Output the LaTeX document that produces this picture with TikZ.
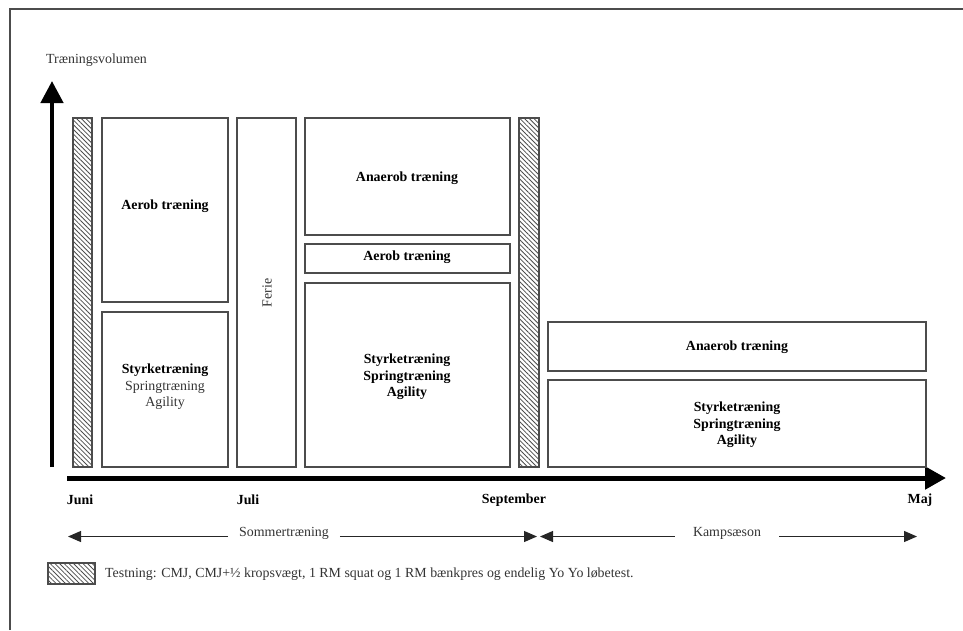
\documentclass[tikz,border=0pt]{standalone}
\usepackage{fontspec}
\setmainfont{Liberation Serif}
\usepackage{tikz}
\usetikzlibrary{arrows.meta,patterns.meta}

\tikzset{
	rammelinje/.style={line width=1.4pt, color=black!70},
	blok/.style={line width=1.4pt, draw=black!70},
	testblok/.style={blok, pattern={Lines[angle=-45,distance=3.3pt,line width=0.8pt]}, pattern color=black!70},
	felt/.style={font=\fontsize{13.9}{16.6}\selectfont\bfseries, align=center, inner sep=0pt},
	tekst/.style={font=\fontsize{13.9}{16.6}\selectfont, text=black!80, inner sep=0pt},
	periode/.style={line width=1.2pt, color=black!85, -{Triangle[length=13pt,width=11pt]}},
}

\begin{document}
\begin{tikzpicture}[x=1pt, y=-1pt]
		%%%%% START %%%%%
		\useasboundingbox (0, 0) rectangle (963, 630);
		
		\draw[rammelinje] (10, 630) -- (10, 9) -- (963, 9);
		
		\node[tekst, anchor=west] (volumen) at (46, 60) {Træningsvolumen};
		
		\draw[line width=4.5pt, -{Triangle[length=22pt,width=22pt]}] (52, 467) -- (52, 81);
		\draw[line width=5pt, -{Triangle[length=21pt,width=22pt]}] (67, 478) -- (946, 478);
		
		\draw[testblok] (73, 118) rectangle (92, 467);
		\draw[testblok] (519, 118) rectangle (539, 467);
		
		\draw[blok] (102, 118) rectangle (228, 302);
		\node[felt] (aerob1) at (165, 206) {Aerob træning};
		\draw[blok] (102, 312) rectangle (228, 467);
		\node[felt] (styrke1) at (165, 387) {Styrketræning\\\mdseries\color{black!80}Springtræning\\\mdseries\color{black!80}Agility};
		
		\draw[blok] (237, 118) rectangle (296, 467);
		\node[tekst, rotate=90] (ferie) at (267, 293) {Ferie};
		
		\draw[blok] (305, 118) rectangle (510, 235);
		\node[felt] (anaerob2) at (407, 178) {Anaerob træning};
		\draw[blok] (305, 244) rectangle (510, 273);
		\node[felt] (aerob2) at (407, 257) {Aerob træning};
		\draw[blok] (305, 283) rectangle (510, 467);
		\node[felt] (styrke2) at (407, 377) {Styrketræning\\Springtræning\\Agility};
		
		\draw[blok] (548, 322) rectangle (926, 371);
		\node[felt] (anaerob3) at (737, 347) {Anaerob træning};
		\draw[blok] (548, 380) rectangle (926, 467);
		\node[felt] (styrke3) at (737, 425) {Styrketræning\\Springtræning\\Agility};
		
		\node[felt] (juni) at (80, 500) {Juni};
		\node[felt] (juli) at (248, 500) {Juli};
		\node[felt] (september) at (514, 500) {September};
		\node[felt] (maj) at (920, 500) {Maj};
		
		\coordinate (somstart) at (68, 536.5);
		\coordinate (somslut) at (537, 536.5);
		\node[tekst, anchor=base, inner xsep=11pt] (sommer) at (284, 536.5) {Sommertræning};
		\draw[periode] (sommer.base west) -- (somstart);
		\draw[periode] (sommer.base east) -- (somslut);
		
		\coordinate (kampstart) at (540, 536.5);
		\coordinate (kampslut) at (917, 536.5);
		\node[tekst, anchor=base, inner xsep=18pt] (kamp) at (727, 536.5) {Kampsæson};
		\draw[periode] (kamp.base west) -- (kampstart);
		\draw[periode] (kamp.base east) -- (kampslut);
		
		\draw[testblok] (48, 563) rectangle (95, 584);
		\node[tekst, anchor=west] (forklaring) at (105, 574) {Testning: CMJ, CMJ+½ kropsvægt, 1 RM squat og 1 RM bænkpres og endelig Yo Yo løbetest.};
		
		%%%%% END %%%%%
	\end{tikzpicture}
\end{document}
